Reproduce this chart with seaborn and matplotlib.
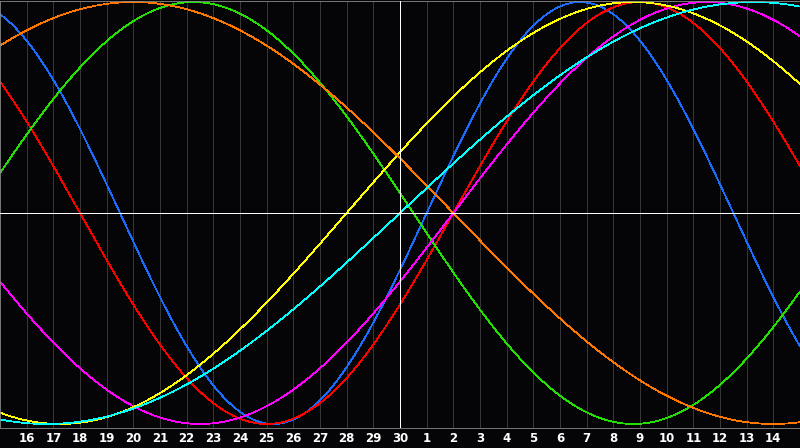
import numpy as np
import pandas as pd
import matplotlib
matplotlib.use("Agg")
import matplotlib.pyplot as plt
import seaborn as sns

# ---- data ----
cycle_names = ["Physical", "Emotional", "Intellectual", "Intuitive", "Aesthetic", "Awareness", "Spiritual"]
cycle_periods = [23, 28, 33, 38, 43, 48, 53]
cycle_colors = ["#1a6cff", "#ff0000", "#22e000", "#ff00ff", "#ffff00", "#ff7700", "#00ffff"]
days_lived_at_start = 28711          # days since birth at the left edge of the chart
day_labels = ["16", "17", "18", "19", "20", "21", "22", "23", "24", "25", "26", "27", "28", "29", "30",
              "1", "2", "3", "4", "5", "6", "7", "8", "9", "10", "11", "12", "13", "14"]
window_days = 30
today_index = 15

# ---- build long table ----
offsets = np.linspace(0, window_days, 1201)
rows = []
for name, period in zip(cycle_names, cycle_periods):
    vals = np.sin(2 * np.pi * (days_lived_at_start + offsets) / period)
    rows.append(pd.DataFrame({"day": offsets, "value": vals, "cycle": name}))
df = pd.concat(rows, ignore_index=True)

sns.set_theme(style="dark")
bg = "#050508"
fig = plt.figure(figsize=(8, 4.48), dpi=100, facecolor=bg)
ax = fig.add_axes([0.0, 20 / 448, 1.0, 427 / 448])
ax.set_facecolor(bg)

# grid (vertical day lines)
for i in range(1, window_days):
    if i != today_index:
        ax.axvline(i, color="#363636", lw=0.6, zorder=0, antialiased=False)

sns.lineplot(data=df, x="day", y="value", hue="cycle", hue_order=cycle_names,
             palette=dict(zip(cycle_names, cycle_colors)), lw=0.55, legend=False,
             ax=ax, zorder=2, estimator=None, sort=False)
for ln in ax.get_lines():
    ln.set_antialiased(False)

ax.axvline(today_index, color="white", lw=0.6, zorder=3, antialiased=False)
ax.axhline(0, color="white", lw=0.6, zorder=3, antialiased=False)

ax.set_xlim(0, window_days)
ax.set_ylim(-1.019, 1.005)
ax.set_xticks(range(1, window_days))
ax.set_xticklabels(day_labels)
ax.set_yticks([])
ax.set_xlabel("")
ax.set_ylabel("")
ax.grid(False)
ax.tick_params(axis="x", length=0, pad=3, colors="white", labelsize=8.5)
for lab in ax.get_xticklabels():
    lab.set_fontweight("bold")
for side, sp in ax.spines.items():
    sp.set_visible(True)
    sp.set_color("#8a8a8a")
    sp.set_linewidth(0.6)

fig.savefig("out.png", dpi=100, facecolor=bg)
